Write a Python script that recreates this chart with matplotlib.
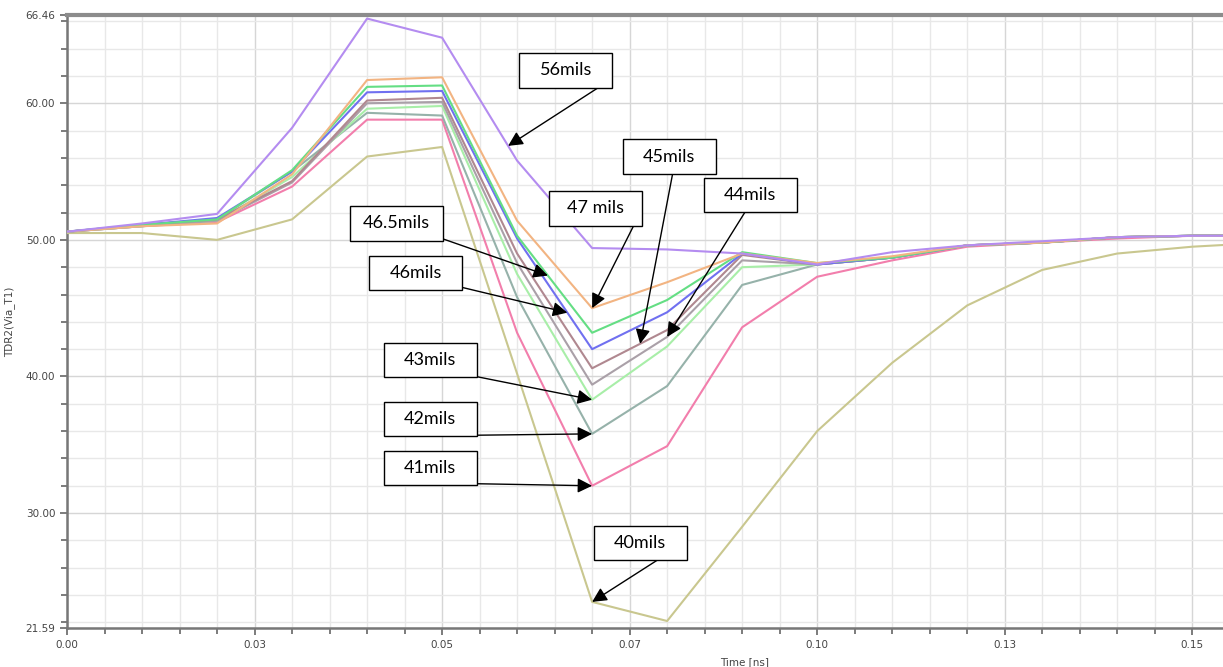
import numpy as np
import matplotlib.pyplot as plt
from matplotlib.patches import Rectangle
from matplotlib.ticker import MultipleLocator, FixedLocator

# TDR impedance vs time for several via anti-pad sizes
time_ns = [0.00, 0.01, 0.02, 0.03, 0.04, 0.05, 0.06, 0.07, 0.08,
           0.09, 0.10, 0.11, 0.12, 0.13, 0.14, 0.15, 0.16]

z_56 = [50.6, 51.2, 51.9, 58.2, 66.2, 64.8, 55.8, 49.4, 49.3, 49.0, 48.2, 49.1, 49.6, 49.9, 50.2, 50.3, 50.3]
z_47 = [50.6, 51.0, 51.2, 54.8, 61.7, 61.9, 51.4, 45.0, 46.9, 49.0, 48.3, 48.8, 49.6, 49.8, 50.2, 50.3, 50.3]
z_465 = [50.6, 51.1, 51.5, 55.1, 61.2, 61.3, 50.3, 43.2, 45.6, 49.1, 48.3, 48.7, 49.6, 49.8, 50.2, 50.3, 50.3]
z_46 = [50.6, 51.1, 51.6, 55.0, 60.8, 60.9, 50.1, 42.0, 44.7, 49.0, 48.2, 48.7, 49.6, 49.8, 50.2, 50.3, 50.3]
z_45 = [50.6, 51.1, 51.5, 54.3, 60.2, 60.4, 49.0, 40.6, 43.4, 48.9, 48.2, 48.7, 49.6, 49.8, 50.2, 50.3, 50.3]
z_44 = [50.6, 51.0, 51.4, 54.2, 60.0, 60.1, 48.3, 39.4, 42.9, 48.5, 48.2, 48.7, 49.6, 49.8, 50.2, 50.3, 50.3]
z_43 = [50.6, 51.0, 51.4, 54.6, 59.6, 59.8, 47.5, 38.3, 42.2, 48.0, 48.2, 48.7, 49.6, 49.8, 50.2, 50.3, 50.3]
z_42 = [50.6, 51.0, 51.5, 55.0, 59.3, 59.1, 45.8, 35.8, 39.3, 46.7, 48.2, 48.7, 49.6, 49.8, 50.2, 50.3, 50.3]
z_41 = [50.6, 51.0, 51.3, 53.9, 58.8, 58.8, 43.2, 32.0, 34.9, 43.6, 47.3, 48.5, 49.5, 49.8, 50.1, 50.3, 50.3]
z_40 = [50.5, 50.5, 50.0, 51.5, 56.1, 56.8, 40.2, 23.5, 22.1, 29.0, 36.0, 41.0, 45.2, 47.8, 49.0, 49.5, 49.8]

labels = ["56mils", "47 mils", "46.5mils", "46mils", "45mils",
          "44mils", "43mils", "42mils", "41mils", "40mils"]
series = [z_56, z_47, z_465, z_46, z_45, z_44, z_43, z_42, z_41, z_40]
colors = ["#b48cf0", "#f2b482", "#64de84", "#7070f0", "#b08890",
          "#aaa0a8", "#a8eea8", "#96b2aa", "#f27eac", "#c9c78f"]

x_ticks = [0.0, 0.025, 0.05, 0.075, 0.10, 0.125, 0.15]
x_ticklabels = ["0.00", "0.03", "0.05", "0.07", "0.10", "0.13", "0.15"]
y_ticks = [21.59, 30, 40, 50, 60, 66.46]
y_ticklabels = ["21.59", "30.00", "40.00", "50.00", "60.00", "66.46"]

# callouts: box centre, arrow tail, time where the arrow hits the curve
box_xy = [(0.0665, 62.4), (0.0705, 52.3), (0.0439, 51.2), (0.0465, 47.6), (0.0803, 56.1),
          (0.0911, 53.3), (0.0484, 41.2), (0.0484, 36.9), (0.0484, 33.3), (0.0764, 27.8)]
tail_xy = [(0.0707, 61.1), (0.0755, 51.0), (0.0497, 50.15), (0.0513, 46.7), (0.0807, 54.75),
           (0.0904, 52.05), (0.0545, 40.0), (0.0545, 35.7), (0.0545, 32.15), (0.0791, 26.7)]
tip_t = [0.0588, 0.07, 0.0641, 0.0667, 0.0764, 0.08, 0.07, 0.07, 0.07, 0.07]
box_w, box_h = 0.0124, 2.5

fig = plt.figure(figsize=(12.23, 6.67), dpi=100)
ax = fig.add_axes([0.0548, 0.0585, 0.9452, 0.919])

for vals, c in zip(series[::-1], colors[::-1]):
    ax.plot(time_ns, vals, color=c, lw=1.5, zorder=3)

ax.set_xlim(0, 0.1541)
ax.set_ylim(21.59, 66.46)

ax.xaxis.set_major_locator(FixedLocator(x_ticks))
ax.set_xticklabels(x_ticklabels)
ax.xaxis.set_minor_locator(MultipleLocator(0.005))
ax.yaxis.set_major_locator(FixedLocator(y_ticks))
ax.set_yticklabels(y_ticklabels)
ax.yaxis.set_minor_locator(MultipleLocator(2))

ax.grid(which="minor", color="#e8e8e8", lw=1)
ax.grid(which="major", color="#d6d6d6", lw=1)
ax.set_axisbelow(True)

ax.tick_params(which="both", direction="out", color="#666666", width=1.2,
               labelsize=7.5, labelcolor="#444444")
ax.tick_params(which="major", length=5)
ax.tick_params(which="minor", length=4)

for side in ["left", "bottom"]:
    ax.spines[side].set_color("#777777")
    ax.spines[side].set_linewidth(1.8)
ax.spines["top"].set_color("#8c8c8c")
ax.spines["top"].set_linewidth(3)
ax.spines["right"].set_visible(False)

ax.set_xlabel("Time [ns]", fontsize=7.5, color="#444444")
ax.xaxis.set_label_coords(0.5865, -0.047)
ax.set_ylabel("TDR2(Via_T1)", fontsize=7.5, color="#444444")
ax.yaxis.set_label_coords(-0.045, 0.5)

for lab, vals, (bx, by), tail, t in zip(labels, series, box_xy, tail_xy, tip_t):
    tip = (t, np.interp(t, time_ns, vals))
    ax.annotate("", xy=tip, xytext=tail,
                arrowprops=dict(arrowstyle="-|>", color="black", lw=1,
                                mutation_scale=22, shrinkA=0, shrinkB=0),
                zorder=5)
    ax.add_patch(Rectangle((bx - box_w / 2, by - box_h / 2), box_w, box_h,
                           facecolor="white", edgecolor="black", lw=1, zorder=6))
    ax.text(bx, by, lab, ha="center", va="center", fontsize=13,
            family="Lato", zorder=7)

fig.savefig("out.png", dpi=100)
